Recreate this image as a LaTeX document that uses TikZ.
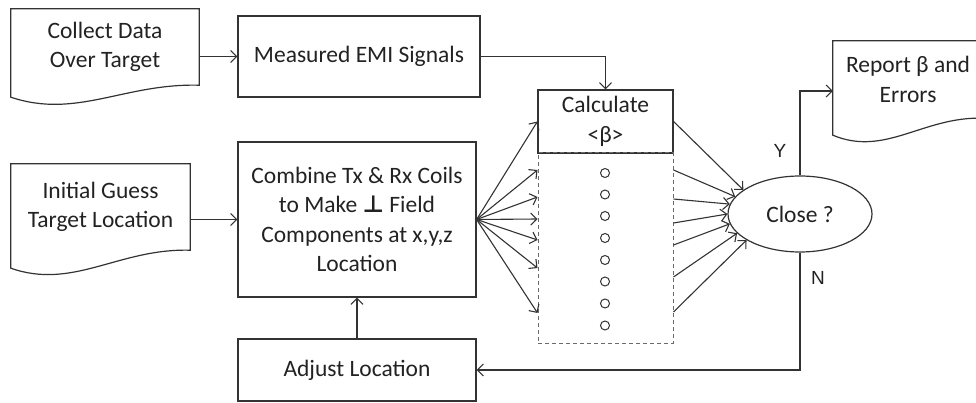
\documentclass[tikz,border=0pt]{standalone}
\usepackage{fontspec}
\setmainfont{Carlito}
\newfontfamily\ynfont{Liberation Sans}
\newfontfamily\djfont{DejaVu Sans}
\usetikzlibrary{arrows.meta,shapes.geometric,calc}
\definecolor{ln}{HTML}{333333}
\definecolor{tx}{HTML}{222222}
\definecolor{dsh}{HTML}{6A6A6A}
\begin{document}
\begin{tikzpicture}[x=1pt,y=-1pt,
  every node/.style={text=tx, font=\fontsize{23.5}{29.5}\selectfont},
  box/.style={draw=ln, line width=1.2pt, rectangle, inner sep=0pt, align=center},
  docbox/.style={rectangle, inner sep=0pt, align=center},
  docline/.style={draw=ln, line width=1.2pt, line join=miter},
  conn/.style={draw=ln, line width=1.1pt},
  arr/.style={conn, -{Straight Barb[length=6pt,width=12pt]}},
  dotc/.style={circle, draw=ln, line width=1pt, minimum size=9pt, inner sep=0pt},
  lab/.style={font=\ynfont\fontsize{19}{22}\selectfont}
]
\clip (0,0) rectangle (976,403);

% document shapes
\node[docbox, minimum width=188pt, minimum height=76pt] (collect) at (105,47) {Collect Data\\Over Target};
\draw[docline] (collect.north west) -- (collect.north east) -- (collect.south east)
  .. controls +(-75.2,-2) and +(65.8,22) .. ([yshift=-12pt]collect.south west) -- cycle;

\node[docbox, minimum width=179pt, minimum height=86pt] (initial) at (100.5,207) {Initial Guess\\Target Location};
\draw[docline] (initial.north west) -- (initial.north east) -- (initial.south east)
  .. controls +(-71.6,-2) and +(62.7,22) .. ([yshift=-18pt]initial.south west) -- cycle;

\node[docbox, minimum width=150pt, minimum height=77pt] (report) at (908,79.5) {Report β and\\Errors};
\draw[docline] (report.north west) -- (report.north east) -- (report.south east)
  .. controls +(-60,-2) and +(52.5,22) .. ([yshift=-17pt]report.south west) -- cycle;

% boxes
\node[box, minimum width=242pt, minimum height=81pt] (measured) at (359,56.5) {Measured EMI Signals};
\node[box, minimum width=238pt, minimum height=155pt] (combine) at (357,219.5)
  {Combine Tx \& Rx Coils\\to Make {\djfont\bfseries ⊥} Field\\Components at x,y,z\\Location};
\node[box, minimum width=238pt, minimum height=62pt] (adjust) at (357,370) {Adjust Location};
\node[box, minimum width=135pt, minimum height=63pt] (calc) at (605.5,121.5) {Calculate\\\textless β\textgreater};
\node[draw=dsh, line width=1pt, dash pattern=on 4pt off 3pt, rectangle, inner sep=0pt,
  minimum width=135pt, minimum height=190pt] (dash) at (605.5,248) {};
\node[draw=ln, line width=1.2pt, ellipse, inner sep=0pt, minimum width=144pt, minimum height=76pt] (close) at (800,214) {Close ?};

% circles
\foreach \n/\y in {1/173,2/194.5,3/216,4/238,5/260,6/281.5,7/303.5,8/325.5}
  \node[dotc] (o\n) at (605,\y) {};

% labels
\node[lab] (ylab) at (780,151) {Y};
\node[lab] (nlab) at (818,278) {N};

% connectors
\draw[arr] (measured.west -| collect.east) -- (measured.west);
\draw[arr] (combine.west -| initial.east) -- (combine.west);
\draw[arr] (measured.east) -| (calc.north);
\draw[arr] (adjust.north) -- (combine.south);

% fan in
\coordinate (l1) at (calc.west);
\foreach \n/\y in {2/170,3/197,4/219,5/240,6/268,7/313}
  \coordinate (l\n) at (dash.west |- 0,\y);
\foreach \n in {1,...,7}
  \draw[arr] (combine.east) -- (l\n);

% fan out
\coordinate (r1) at (calc.east);
\foreach \n/\y in {2/170,3/199,4/223,5/245,6/277,7/312}
  \coordinate (r\n) at (dash.east |- 0,\y);
\foreach \n/\a in {1/157,2/165,3/172,4/180,5/188,6/197,7/206}
  \draw[arr] (r\n) -- (close.\a);

\draw[arr] (close.north) |- ([yshift=-11.5pt]report.west);
\draw[arr] (close.south) |- (adjust.east);
\end{tikzpicture}
\end{document}
